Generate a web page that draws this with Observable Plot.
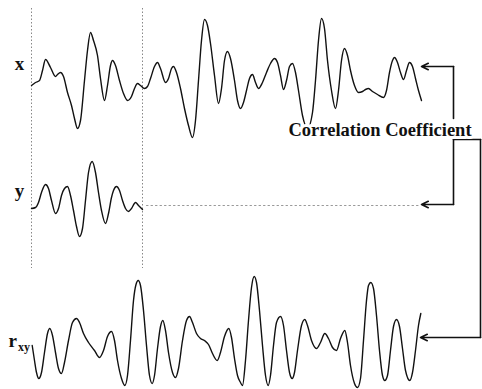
<!DOCTYPE html>
<html>
<head>
<meta charset="utf-8">
<script src="https://cdn.jsdelivr.net/npm/d3@7"></script>
<script src="https://cdn.jsdelivr.net/npm/@observablehq/plot@0.6"></script>
<style>
html,body{margin:0;padding:0;background:#fff;}
#chart svg{display:block;}
</style>
</head>
<body>
<div id="chart"></div>
<script>
// Sample positions (t) and signal levels (v) (screen units, y grows downward)
const xSignalT = [31,35,39,42,45,50,55,57,60,63,67,71,74,77,80,84,87,90,93,97,100,104,107,110,112,115,119,123,127,131,134,137,140,144,147,150,154,157,160,165,168,171,173,176,180,184,188,192,195,198,201,204,207,210,214,218,221,224,227,230,234,237,240,243,246,249,252,255,258,262,266,270,274,277,280,283,286,289,292,295,298,302,307,312,315,318,321,324,327,331,335,338,341,344,347,350,354,358,362,365,368,372,377,383,386,389,392,394,397,400,403,406,409,412,415,418,421];
const xSignalV = [85,82,80,70,59,67,76,74,72,76,92,105,118,128,120,80,50,32,40,55,78,100,85,65,60,65,80,93,100,96,88,83,85,88,86,78,66,62,68,82,78,68,66,72,88,108,125,137,120,80,40,19,25,43,75,103,88,60,51,58,80,100,108,102,90,78,74,82,88,82,72,63,58,62,75,89,80,66,63,72,90,115,128,112,80,40,18,28,60,90,108,90,60,48,55,70,85,92,91,89,88,91,94,97,90,72,60,57,62,72,79,70,62,66,78,90,100];

const ySignalT = [31,35,38,41,45,48,51,55,58,61,64,67,70,73,76,79,82,85,88,91.7,95,98,101,105,108,111,113,116,119,122,125,128,131,135,138,142];
const ySignalV = [208,207,202,192,184,188,200,213,208,195,188,186,195,210,226,236,228,200,172,161,172,192,210,223,213,197,190,186,190,200,208,211,208,202,205,209];

const rxyT = [31.7,34,36,38.3,41,44,47,49.3,52,55,58,61,64,68,72,76,79,83,88,94,99,103,107,111,114,117,121,124.3,127,130,133,135.5,137.7,140,143,146,149,151.7,154,157,160,162.3,165,168,172,175,178,182,186,189,192,196,200,204,208,212,216.7,220,224,228.3,231,234,237,240,242,245,248,251,253.7,256,259,262,265,267.7,270,273,276,280,283,286,289,291.7,294,297,301,304.3,307,311,316,320,324.3,328,332,336,340,344.3,347,350,354,357,360,363,366,368,370.3,373,376,379,382,384.3,387,390,393,396,399,402,405,409.3,412,415,418,420.3];
const rxyV = [345,360,372,378,372,352,333,328,335,352,368,373,362,340,322,318,322,333,342,350,357,350,336,331,340,360,378,385,375,340,300,284,280,285,310,345,375,383,375,348,326,320,330,352,372,377,368,340,320,316,322,333,338,340,344,353,360,352,336,328,337,358,375,382,385,360,320,287,276,282,310,345,375,385,375,345,322,316,325,350,372,378,372,350,325,319,325,340,348,342,333,338,347,350,338,330,342,365,383,387,378,340,300,285,282,288,315,350,375,380,375,350,326,319,326,348,370,380,372,350,325,313];

// Window markers (dotted verticals), connector routes and labels
const windowT = [31, 142];
const windowSpan = [8, 268];
const yTrail = [[146,205],[419,205]];
const xStem = [[453,118],[453,66]];
const boxTop = [[453,139],[480,139]];
const yStem = [[453,139],[453,204]];
const rStem = [[480,139],[480,337]];
const arrows = [
  {x1:453, y1:66,  x2:421, y2:66},
  {x1:453, y1:204, x2:421, y2:204},
  {x1:480, y1:337, x2:420, y2:337}
];
const labels = [
  {t:19, v:69, text:"x"},
  {t:19, v:196, text:"y"}
];
const rLabel = {t:8, v:346, text:"r"};
const rSub = {t:17.5, v:350, text:"xy"};
const titleLabel = {t:288, v:135, text:"Correlation Coefficient"};

const toPts = (T, V) => T.map((t, i) => ({t, v: V[i]}));
const serif = "'Liberation Serif','Times New Roman',serif";

const plot = Plot.plot({
  width: 482,
  height: 389,
  margin: 0,
  x: {domain: [0, 482], axis: null},
  y: {domain: [389, 0], axis: null},
  style: {background: "#fff"},
  marks: [
    Plot.ruleX(windowT, {x: d => d, y1: windowSpan[0], y2: windowSpan[1], stroke: "#888", strokeWidth: 1, strokeDasharray: "1.5,2"}),
    Plot.line(yTrail, {x: d => d[0], y: d => d[1], stroke: "#999", strokeWidth: 1, strokeDasharray: "1.5,3"}),
    Plot.line(toPts(xSignalT, xSignalV), {x: "t", y: "v", curve: "monotone-x", stroke: "#111", strokeWidth: 1.4}),
    Plot.line(toPts(ySignalT, ySignalV), {x: "t", y: "v", curve: "monotone-x", stroke: "#111", strokeWidth: 1.4}),
    Plot.line(toPts(rxyT, rxyV), {x: "t", y: "v", curve: "monotone-x", stroke: "#111", strokeWidth: 1.4}),
    Plot.line(xStem, {x: d => d[0], y: d => d[1], stroke: "#111", strokeWidth: 1.6}),
    Plot.line(boxTop, {x: d => d[0], y: d => d[1], stroke: "#111", strokeWidth: 1.6}),
    Plot.line(yStem, {x: d => d[0], y: d => d[1], stroke: "#111", strokeWidth: 1.6}),
    Plot.line(rStem, {x: d => d[0], y: d => d[1], stroke: "#111", strokeWidth: 1.6}),
    Plot.arrow(arrows, {x1: "x1", y1: "y1", x2: "x2", y2: "y2", stroke: "#111", strokeWidth: 1.6, headLength: 7, headAngle: 50}),
    Plot.text([titleLabel], {x: "t", y: "v", text: "text", textAnchor: "start", lineAnchor: "bottom", fontFamily: serif, fontWeight: "bold", fontSize: 18.5, fill: "#111", stroke: "white", strokeWidth: 6}),
    Plot.text(labels, {x: "t", y: "v", text: "text", textAnchor: "middle", lineAnchor: "bottom", fontFamily: serif, fontWeight: "bold", fontSize: 19, fill: "#111"}),
    Plot.text([rLabel], {x: "t", y: "v", text: "text", textAnchor: "start", lineAnchor: "bottom", fontFamily: serif, fontWeight: "bold", fontSize: 19, fill: "#111"}),
    Plot.text([rSub], {x: "t", y: "v", text: "text", textAnchor: "start", lineAnchor: "bottom", fontFamily: serif, fontWeight: "bold", fontSize: 12, fill: "#111"})
  ]
});
document.getElementById("chart").appendChild(plot);
</script>
</body>
</html>
